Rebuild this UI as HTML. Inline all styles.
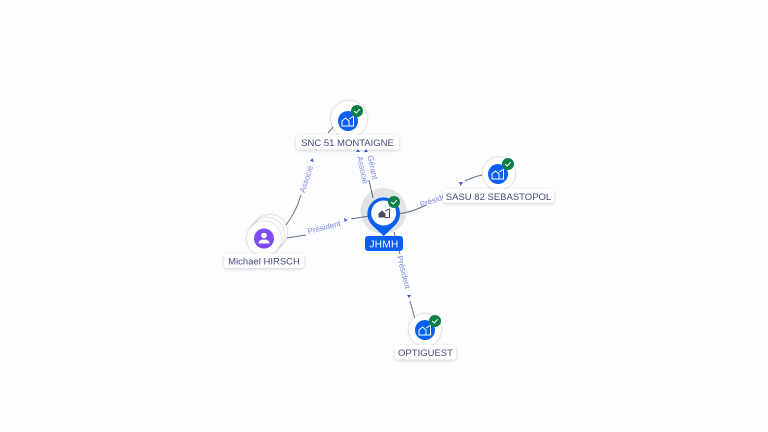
<!DOCTYPE html>
<html><head><meta charset="utf-8"><style>
html,body{margin:0;padding:0;width:768px;height:432px;overflow:hidden;background:#fbfdff}
svg{display:block}
text{font-family:"Liberation Sans",sans-serif}
.e{font-size:8px;fill:#7f89dc;text-anchor:middle}
.l{font-size:9.5px;fill:#434b78;text-anchor:middle}
.b{fill:#fff;filter:url(#s)}
.n{fill:#fff;filter:url(#s2)}
.line{stroke:#6f7186;stroke-width:1;fill:none}
.ic{fill:none;stroke:#fff;stroke-width:1}
</style></head><body>
<svg width="768" height="432" viewBox="0 0 768 432" xmlns="http://www.w3.org/2000/svg">
<defs>
<filter id="s" x="-30%" y="-30%" width="160%" height="160%"><feDropShadow dx="0" dy="1" stdDeviation="1.5" flood-color="#000" flood-opacity=".18"/></filter>
<filter id="s2" x="-30%" y="-30%" width="160%" height="160%"><feDropShadow dx="0" dy="0" stdDeviation="1.3" flood-color="#000" flood-opacity=".3"/></filter>
<g id="badge"><circle r="6" fill="#0a7f46"/><path d="M-2.8,0 L-.8,2 L2.8,-1.8" fill="none" stroke="#fff" stroke-width="1"/></g>
<g id="co"><path class="ic" d="M-6,5 V0 L-2.5,-3 L1,0 V5 Z M1,-2 L5.5,-4.5 V5 H-6"/></g>
</defs>
<rect width="768" height="432" fill="#fbfdff"/>
<path class="line" d="M286,225 Q296,212 301,195"/>
<path class="line" d="M316,150 L320,141 M328,133 L334,126"/>
<path class="line" d="M287,238 L306,235"/>
<path class="line" d="M351,219 L369,216"/>
<path class="line" d="M373,198 L369,180"/>
<path class="line" d="M398,214 Q413,212 426,205"/>
<path class="line" d="M465,181 Q473,177 482,175"/>
<path class="line" d="M394,232 L400,254"/>
<path class="line" d="M410,301 L415,319"/>

<text class="e" transform="translate(306,179) rotate(-72)" dy="3">Associé</text>
<path d="M312.5,158 L314,162 L310,161 Z" fill="#5b5fd0"/>
<text class="e" transform="translate(324,227) rotate(-14)" dy="3">Président</text>
<path d="M348,220 L344.5,222 L344,218 Z" fill="#5b5fd0"/>
<text class="e" transform="translate(369,168) rotate(78)" dy="-1">Gérant</text>
<text class="e" transform="translate(362,170) rotate(78)" dy="2">Associé</text>
<path d="M358,149 L360,152 L356,152 Z" fill="#3d5fd0"/>
<path d="M366,149 L368,152 L364,152 Z" fill="#3d5fd0"/>
<text class="e" transform="translate(436,199) rotate(-20)" dy="3">Président</text>
<path d="M463,182 L459,182 L460.5,186 Z" fill="#3d5fd0"/>
<text class="e" transform="translate(404,272) rotate(76)" dy="3">Président</text>
<path d="M407,295 L411,295 L409,298 Z" fill="#2f55c8"/>

<!-- SNC -->
<circle class="n" cx="349" cy="119" r="18"/>
<circle cx="348" cy="121" r="10" fill="#0a5ff0"/>
<use href="#co" x="348" y="121"/>
<use href="#badge" x="357" y="111"/>
<rect class="b" x="296" y="135" width="103" height="14.5" rx="3"/>
<text class="l" x="347.5" y="146">SNC 51 MONTAIGNE</text>

<!-- SASU -->
<circle class="n" cx="499" cy="173.5" r="16"/>
<circle cx="498" cy="174" r="10" fill="#0a5ff0"/>
<use href="#co" x="498" y="174"/>
<use href="#badge" x="508" y="164"/>
<rect class="b" x="443" y="189" width="111" height="14" rx="3"/>
<text class="l" x="498.5" y="200">SASU 82 SEBASTOPOL</text>

<!-- OPTIGUEST -->
<circle class="n" cx="425" cy="330" r="16"/>
<circle cx="425" cy="330" r="10" fill="#0a5ff0"/>
<use href="#co" x="425" y="330"/>
<use href="#badge" x="435" y="321"/>
<rect class="b" x="395" y="345" width="61" height="14.5" rx="3"/>
<text class="l" x="425.5" y="356">OPTIGUEST</text>

<!-- Michael -->
<circle class="n" cx="270" cy="232" r="17"/>
<circle class="n" cx="267" cy="235" r="17"/>
<circle class="n" cx="264" cy="238.5" r="17"/>
<circle cx="264" cy="238.5" r="10" fill="#7b4df0"/>
<circle cx="264" cy="235.5" r="2.8" fill="#fff"/>
<path d="M258.5,243.5 Q258.5,239.5 264,239.5 Q269.5,239.5 269.5,243.5 Z" fill="#fff"/>
<rect class="b" x="224" y="254" width="80" height="14" rx="3"/>
<text class="l" x="264" y="264.5">Michael HIRSCH</text>

<!-- JHMH -->
<circle cx="383.5" cy="211" r="23" fill="#000" fill-opacity=".1"/>
<path d="M383.7,236 L373,226 A16.3,16.3 0 1 1 394.4,226 Z" fill="#0a5ff0"/>
<circle cx="383.7" cy="213" r="12.5" fill="#fff"/>
<path d="M378.5,217.5 V213.5 L382,210.5 L385.5,213.5 V217.5 Z" fill="#454c62"/>
<path d="M385,211 L389.5,209 V217.5 H385" fill="none" stroke="#454c62" stroke-width="1"/>
<use href="#badge" x="394" y="202"/>
<rect x="365" y="236" width="38" height="15" rx="3" fill="#0a5ff0"/>
<text x="384" y="247.5" font-size="10" fill="#fff" text-anchor="middle" letter-spacing=".3">JHMH</text>
</svg>
</body></html>
